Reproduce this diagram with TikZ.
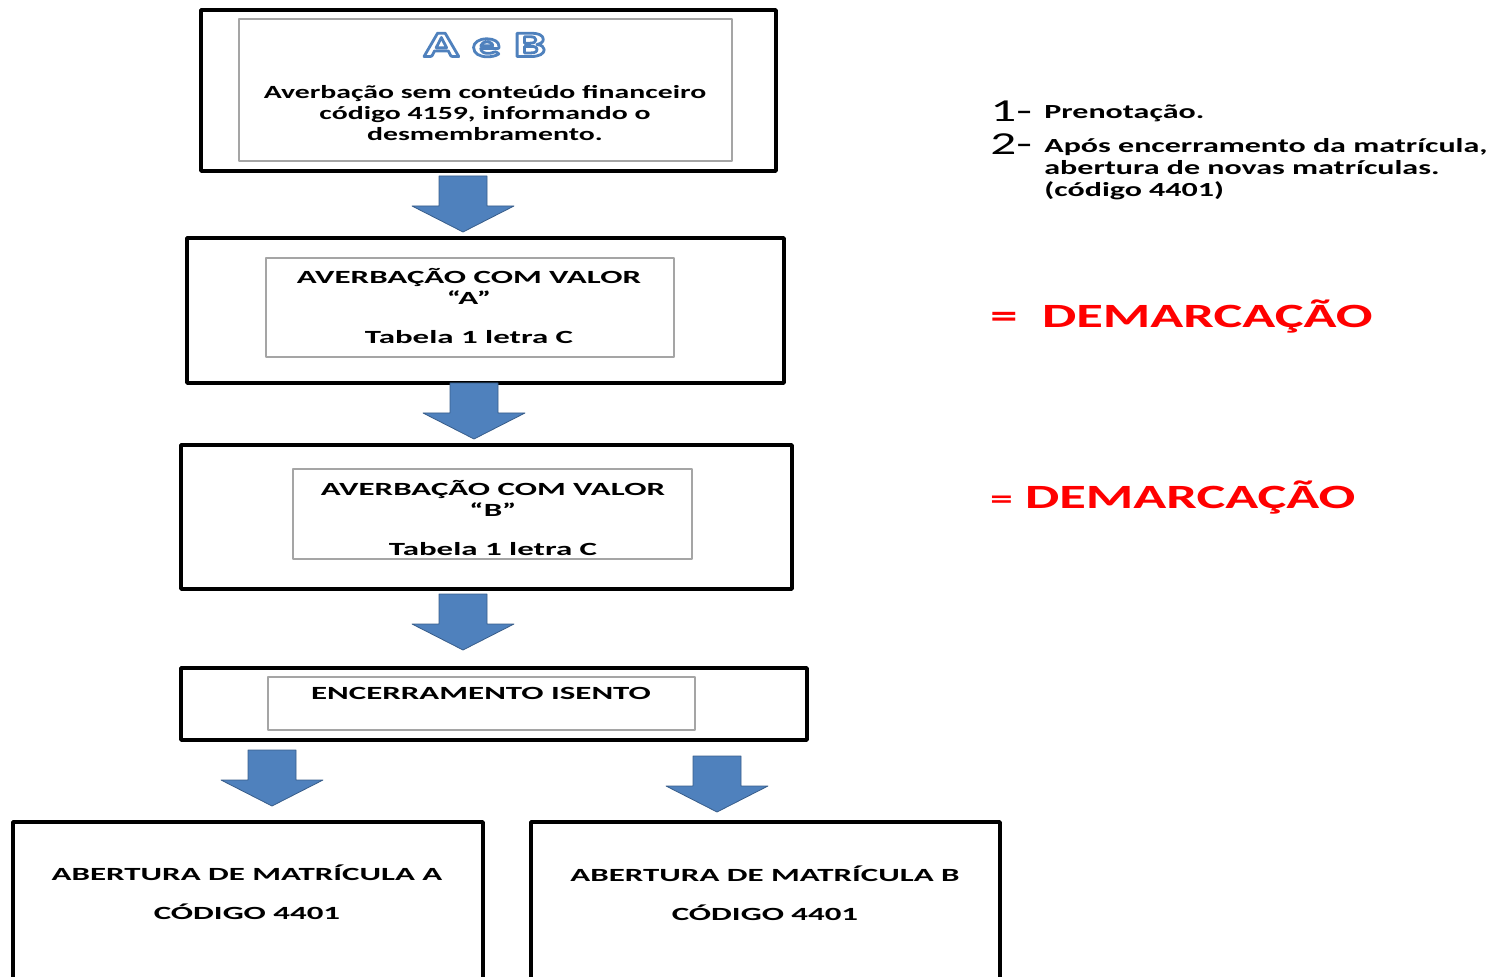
\documentclass[tikz,border=0pt]{standalone}
\usepackage{fontspec}
\setmainfont{Carlito}
\newfontfamily\wide[FakeStretch=1.6]{Carlito}
\newfontfamily\widecaps[FakeStretch=1.77]{Carlito}
\definecolor{arrowblue}{RGB}{79,129,189}
\definecolor{arrowedge}{RGB}{56,93,138}
\definecolor{boxgray}{RGB}{165,165,165}
\definecolor{demred}{RGB}{255,0,0}
\newcommand{\outlinetext}[1]{{\color{white}\special{pdf:literal 0.31 0.506 0.741 RG 2 Tr 1.4 w}#1\special{pdf:literal 0 Tr}}}

\begin{document}
\begin{tikzpicture}[line cap=round,line join=round,x=0.5pt,y=-0.5pt,
    outerbox/.style={draw=black,line width=1.8pt,inner sep=0pt},
    innerbox/.style={draw=boxgray,line width=0.8pt,inner sep=0pt},
    boxtext/.style={align=center,inner sep=0pt,font=\wide\bfseries\fontsize{9.3}{10.5}\selectfont},
    capstext/.style={align=center,inner sep=0pt,font=\widecaps\bfseries\fontsize{9.3}{10.5}\selectfont},
    notetext/.style={align=left,anchor=west,inner sep=0pt,font=\wide\bfseries\fontsize{10}{11}\selectfont},
    redtext/.style={anchor=west,inner sep=0pt,text=demred,font=\wide\bfseries\fontsize{17}{17}\selectfont},
    blockarrow/.pic={\filldraw[fill=arrowblue,draw=arrowedge,line width=0.4pt]
      (-24,0) -- (24,0) -- (24,30) -- (51,30) -- (0,56) -- (-51,30) -- (-24,30) -- cycle;}]
  \useasboundingbox (0,0) rectangle (1502,977);

  % boxes of the flow
  \node[outerbox,minimum width=287.5pt,minimum height=80.5pt] (b1) at (488.5,90.5) {};
  \node[innerbox,minimum width=246.5pt,minimum height=71pt] (i1) at (485.5,90) {};
  \node[outerbox,minimum width=298.5pt,minimum height=72.5pt] (b2) at (485.5,310.5) {};
  \node[innerbox,minimum width=204pt,minimum height=49.5pt] (i2) at (470,307.5) {};
  \node[outerbox,minimum width=305.5pt,minimum height=72pt] (b3) at (486.5,517) {};
  \node[innerbox,minimum width=199.5pt,minimum height=45pt] (i3) at (492.5,514) {};
  \node[outerbox,minimum width=313pt,minimum height=36pt] (b4) at (494,704) {};
  \node[innerbox,minimum width=213.5pt,minimum height=26.5pt] (i4) at (481.5,703.5) {};
  \node[outerbox,minimum width=235pt,minimum height=89pt] (b5a) at (248,911) {};
  \node[outerbox,minimum width=234.5pt,minimum height=89pt] (b5b) at (765.5,911) {};

  % texts
  \node[inner sep=0pt,font=\wide\bfseries\fontsize{18}{18}\selectfont] (ab) at (485,45) {\outlinetext{A e B}};
  \node[boxtext] (t1) at (485,113.5) {Averbação sem conteúdo financeiro\\código 4159, informando o\\desmembramento.};
  \node[capstext] (t2) at (469,306) {AVERBAÇÃO COM VALOR\\“A”\\[9pt]Tabela 1 letra C};
  \node[capstext] (t3) at (493,518) {AVERBAÇÃO COM VALOR\\“B”\\[9pt]Tabela 1 letra C};
  \node[capstext] (t4) at (481,693) {ENCERRAMENTO ISENTO};
  \node[capstext] (t5a) at (247,892) {ABERTURA DE MATRÍCULA A\\[9pt]CÓDIGO 4401};
  \node[capstext] (t5b) at (765,893) {ABERTURA DE MATRÍCULA B\\[9pt]CÓDIGO 4401};

  % block arrows
  \pic at (463,176) {blockarrow};
  \pic at (474,383) {blockarrow};
  \pic at (463,594) {blockarrow};
  \pic at (272,750) {blockarrow};
  \pic at (717,756) {blockarrow};

  % notes on the right
  \node[notetext,font=\wide\fontsize{16}{16}\selectfont] (n1) at (990,111) {1-};
  \node[notetext] (n1t) at (1044,113) {Prenotação.};
  \node[notetext,font=\wide\fontsize{16}{16}\selectfont] (n2) at (990,144) {2-};
  \node[notetext] (n2t) at (1044,169) {Após encerramento da matrícula,\\abertura de novas matrículas.\\(código 4401)};
  \node[redtext] (d1) at (990,317) {=\ \ DEMARCAÇÃO};
  \node[redtext] (d2) at (990,498) {{\fontsize{14}{14}\selectfont=} DEMARCAÇÃO};
\end{tikzpicture}
\end{document}
